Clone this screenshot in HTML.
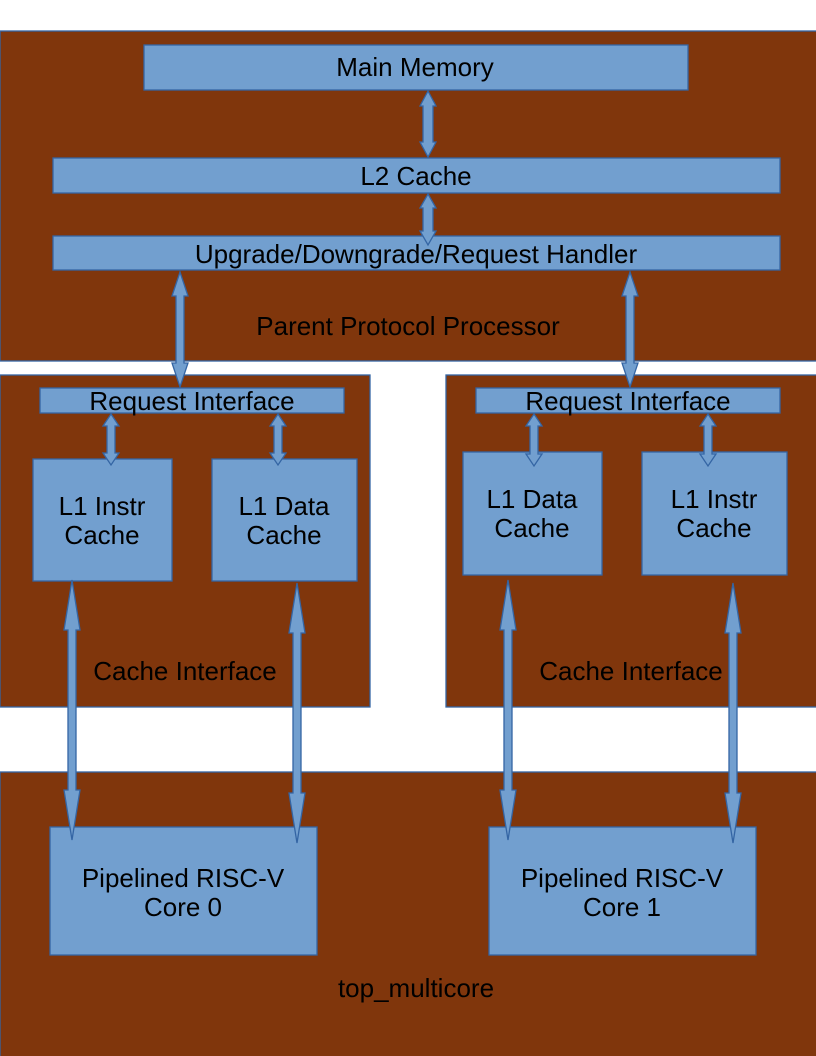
<!DOCTYPE html>
<html><head><meta charset="utf-8"><style>
html,body{margin:0;padding:0;background:#fff;width:816px;height:1056px;overflow:hidden}
svg text{font-family:"Liberation Sans",sans-serif;font-size:26px;fill:#000;text-anchor:middle}
</style></head><body>
<svg id="s" width="816" height="1056" xmlns="http://www.w3.org/2000/svg">
<g stroke="#3465a4" stroke-width="1.3">
<rect x="0" y="31" width="830" height="330" fill="#80360c"/>
<rect x="0" y="375" width="370" height="332" fill="#80360c"/>
<rect x="446" y="375" width="380" height="332" fill="#80360c"/>
<rect x="0" y="772" width="830" height="300" fill="#80360c"/>
<g fill="#729fcf">
<rect x="144" y="45" width="544" height="45"/>
<rect x="53" y="158" width="727" height="35"/>
<rect x="53" y="236" width="727" height="34"/>
<rect x="40" y="388" width="304" height="25"/>
<rect x="476" y="388" width="304" height="25"/>
<rect x="33" y="459" width="139" height="122"/>
<rect x="212" y="459" width="145" height="122"/>
<rect x="463" y="452" width="139" height="123"/>
<rect x="642" y="452" width="145" height="123"/>
<rect x="50" y="827" width="267" height="128"/>
<rect x="489" y="827" width="267" height="128"/>
</g>
<g id="arrows" fill="#729fcf"></g>
</g>
<text x="415" y="76">Main Memory</text>
<text x="416" y="185">L2 Cache</text>
<text x="416" y="263">Upgrade/Downgrade/Request Handler</text>
<text x="408" y="335">Parent Protocol Processor</text>
<text x="192" y="410">Request Interface</text>
<text x="628" y="410">Request Interface</text>
<text x="102" y="515">L1 Instr</text><text x="102" y="544">Cache</text>
<text x="284" y="515">L1 Data</text><text x="284" y="544">Cache</text>
<text x="532" y="508">L1 Data</text><text x="532" y="537">Cache</text>
<text x="714" y="508">L1 Instr</text><text x="714" y="537">Cache</text>
<text x="185" y="680">Cache Interface</text>
<text x="631" y="680">Cache Interface</text>
<text x="183" y="887">Pipelined RISC-V</text><text x="183" y="916">Core 0</text>
<text x="622" y="887">Pipelined RISC-V</text><text x="622" y="916">Core 1</text>
<text x="416" y="997">top_multicore</text>
</svg>
<script>
var g=document.getElementById('arrows');
function a(c,t,b,s,h,L){var p=[[c,t],[c+h,t+L],[c+s,t+L],[c+s,b-L],[c+h,b-L],[c,b],[c-h,b-L],[c-s,b-L],[c-s,t+L],[c-h,t+L]];
var e=document.createElementNS('http://www.w3.org/2000/svg','polygon');e.setAttribute('points',p.map(function(q){return q.join(',')}).join(' '));g.appendChild(e);}
a(428,91,157,5,8,15);
a(428,194,245,5,8,14);
a(180,272,387,4,8,24);
a(630,272,387,4,8,24);
a(111,414,465,4,8,12);
a(278,414,465,4,8,12);
a(534,414,466,4,8,12);
a(708,414,466,4,8,12);
a(72,580,840,4,8,50);
a(297,583,843,4,8,50);
a(508,580,840,4,8,50);
a(733,583,843,4,8,50);
</script>
</body></html>
